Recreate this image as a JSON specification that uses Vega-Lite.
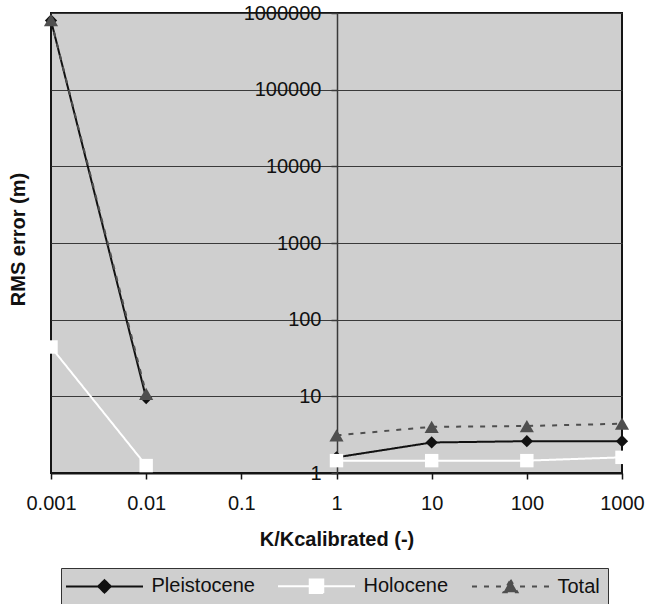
{
  "$schema": "https://vega.github.io/schema/vega-lite/v6.json",
  "autosize": "none",
  "width": 571,
  "height": 460,
  "padding": {"left": 51, "top": 13, "right": 35, "bottom": 131},
  "background": "white",
  "config": {
    "font": "Liberation Sans",
    "view": {"fill": "#cfcfcf", "stroke": "#151515", "strokeWidth": 2}
  },
  "data": {
    "values": [
      {"k": 0.001, "series": "Pleistocene", "part": "a", "rms": 800000},
      {"k": 0.01, "series": "Pleistocene", "part": "a", "rms": 9.5},
      {"k": 1, "series": "Pleistocene", "part": "b", "rms": 1.6},
      {"k": 10, "series": "Pleistocene", "part": "b", "rms": 2.5},
      {"k": 100, "series": "Pleistocene", "part": "b", "rms": 2.6},
      {"k": 1000, "series": "Pleistocene", "part": "b", "rms": 2.6},
      {"k": 0.001, "series": "Holocene", "part": "a", "rms": 44},
      {"k": 0.01, "series": "Holocene", "part": "a", "rms": 1.25},
      {"k": 1, "series": "Holocene", "part": "b", "rms": 1.45},
      {"k": 10, "series": "Holocene", "part": "b", "rms": 1.45},
      {"k": 100, "series": "Holocene", "part": "b", "rms": 1.45},
      {"k": 1000, "series": "Holocene", "part": "b", "rms": 1.6},
      {"k": 0.001, "series": "Total", "part": "a", "rms": 805000},
      {"k": 0.01, "series": "Total", "part": "a", "rms": 10.8},
      {"k": 1, "series": "Total", "part": "b", "rms": 3.1},
      {"k": 10, "series": "Total", "part": "b", "rms": 4.0},
      {"k": 100, "series": "Total", "part": "b", "rms": 4.1},
      {"k": 1000, "series": "Total", "part": "b", "rms": 4.4}
    ]
  },
  "encoding": {
    "x": {
      "field": "k", "type": "quantitative",
      "scale": {"type": "log", "domain": [0.001, 1000], "nice": false},
      "axis": {
        "values": [0.001, 0.01, 0.1, 1, 10, 100, 1000],
        "format": "~g",
        "grid": false,
        "domainColor": "#151515", "domainWidth": 2,
        "tickColor": "#151515", "tickWidth": 1.5, "tickSize": 6,
        "labelFont": "Liberation Sans", "labelFontSize": 20, "labelColor": "#111",
        "labelPadding": 14, "labelFlush": false, "labelOverlap": false,
        "title": "K/Kcalibrated (-)",
        "titleFont": "Liberation Sans", "titleFontSize": 20, "titleFontWeight": "bold", "titleColor": "#111",
        "titlePadding": 16
      }
    },
    "y": {
      "field": "rms", "type": "quantitative",
      "scale": {"type": "log", "domain": [1, 1000000], "nice": false},
      "axis": {
        "orient": "left",
        "offset": -286,
        "values": [1, 10, 100, 1000, 10000, 100000, 1000000],
        "format": "d",
        "grid": true, "gridColor": "#3a3a3a", "gridWidth": 1, "gridOpacity": 1,
        "domainColor": "#3a3a3a", "domainWidth": 1.5,
        "tickColor": "#3a3a3a", "tickWidth": 1.5, "tickSize": 6,
        "labelFont": "Liberation Sans", "labelFontSize": 20, "labelColor": "#111",
        "labelPadding": 10, "labelFlush": false, "labelOverlap": false,
        "title": "RMS error (m)",
        "titleFont": "Liberation Sans", "titleFontSize": 20, "titleFontWeight": "bold", "titleColor": "#111",
        "titleX": -319, "titleY": 226, "titleAngle": -90, "titleAlign": "center", "titleBaseline": "middle",
        "zindex": 0
      }
    },
    "color": {
      "field": "series", "type": "nominal",
      "scale": {"domain": ["Pleistocene", "Holocene", "Total"], "range": ["#111111", "#ffffff", "#4f4f4f"]},
      "legend": {
        "orient": "none", "legendX": 10, "legendY": 555,
        "direction": "horizontal", "title": null,
        "fillColor": "#cfcfcf", "strokeColor": "#333333",
        "padding": 8, "columnPadding": 19,
        "labelFont": "Liberation Sans", "labelFontSize": 20, "labelColor": "#111",
        "symbolSize": 100, "symbolOffset": 25.5, "labelOffset": 37, "symbolStrokeWidth": 2,
        "encode": {
          "symbols": {
            "update": {
              "shape": {"signal": "datum.value === 'Pleistocene' ? 'M-7.7,0H7.7M0,-1.25L1.25,0L0,1.25L-1.25,0Z' : datum.value === 'Holocene' ? 'M-7.7,0H7.7M-1.35,-1.35H1.35V1.35H-1.35Z' : 'M-7.7,0H7.7M0,-1.35L1.4,1.15H-1.4Z'"},
              "fill": {"signal": "datum.value === 'Pleistocene' ? '#111111' : datum.value === 'Holocene' ? '#ffffff' : '#4f4f4f'"},
              "stroke": {"signal": "datum.value === 'Pleistocene' ? '#111111' : datum.value === 'Holocene' ? '#ffffff' : '#4f4f4f'"},
              "strokeDash": {"signal": "datum.value === 'Total' ? [5, 7] : [1, 0]"},
              "strokeWidth": {"value": 2},
              "opacity": {"value": 1}
            }
          }
        }
      }
    }
  },
  "layer": [
    {
      "mark": {"type": "line", "strokeWidth": 2, "clip": false},
      "encoding": {
        "detail": {"field": "part", "type": "nominal"},
        "strokeDash": {
          "field": "series", "type": "nominal",
          "scale": {"domain": ["Pleistocene", "Holocene", "Total"], "range": [[1, 0], [1, 0], [5, 7]]},
          "legend": null
        }
      }
    },
    {
      "transform": [{"filter": "datum.series === 'Pleistocene'"}],
      "mark": {"type": "point", "shape": "diamond", "size": 150, "filled": true, "opacity": 1, "strokeWidth": 0, "clip": false}
    },
    {
      "transform": [{"filter": "datum.series === 'Holocene'"}],
      "mark": {"type": "point", "shape": "square", "size": 180, "filled": true, "opacity": 1, "strokeWidth": 0, "clip": false}
    },
    {
      "transform": [{"filter": "datum.series === 'Total'"}],
      "mark": {"type": "point", "shape": "triangle-up", "size": 200, "filled": true, "opacity": 1, "strokeWidth": 0, "clip": false}
    }
  ]
}
